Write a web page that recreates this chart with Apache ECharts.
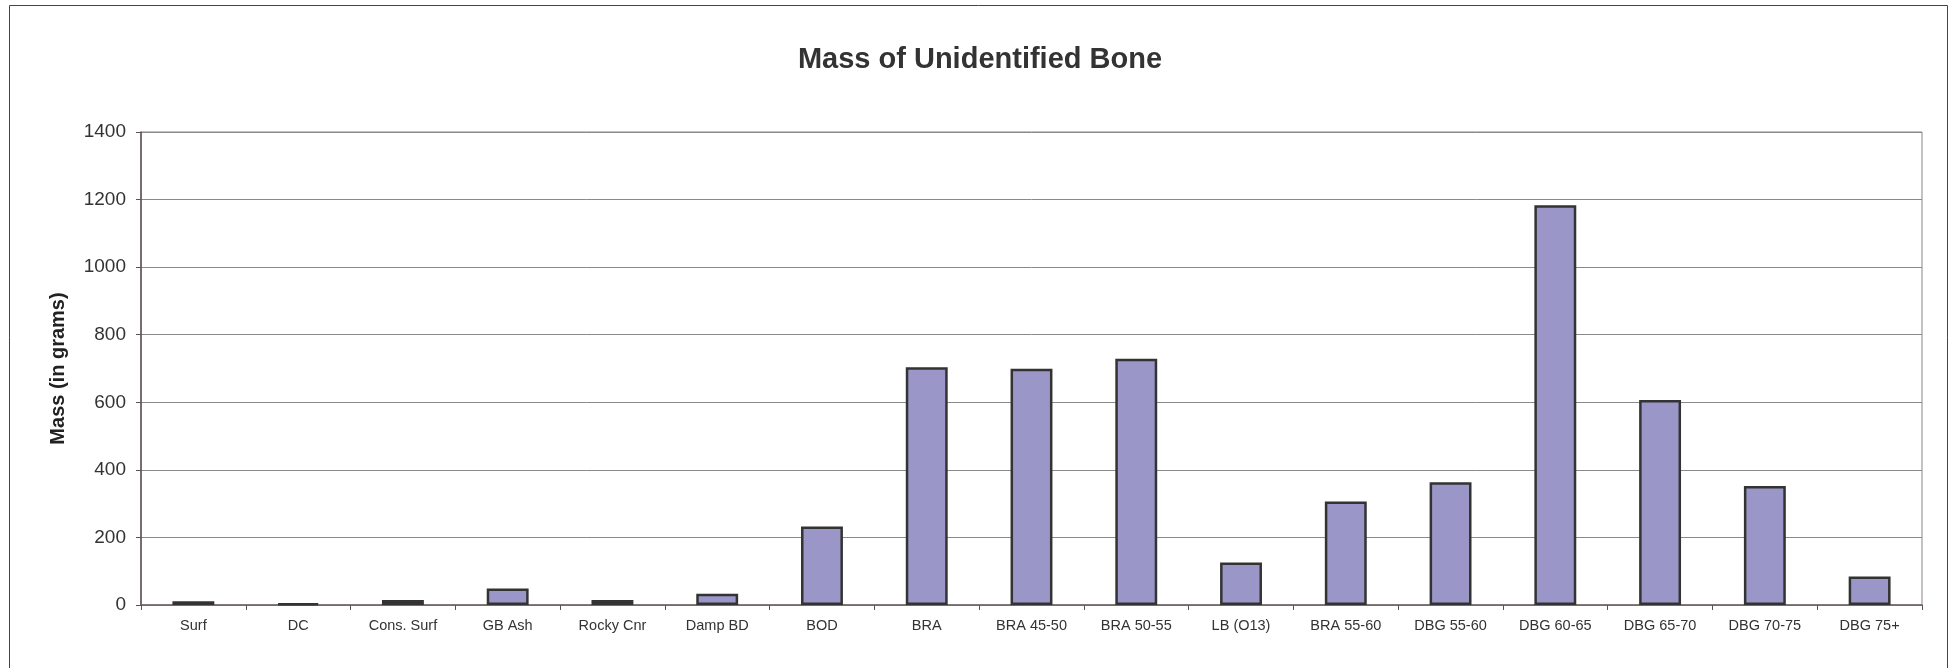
<!DOCTYPE html>
<html>
<head>
<meta charset="utf-8">
<title>Mass of Unidentified Bone</title>
<script src="https://cdn.jsdelivr.net/npm/echarts@6/dist/echarts.min.js"></script>
<style>
  html, body { margin: 0; padding: 0; background: #fff; }
  #chart { width: 1960px; height: 668px; }
</style>
</head>
<body>
<div id="chart"></div>
<script>
const categories = ['Surf', 'DC', 'Cons. Surf', 'GB Ash', 'Rocky Cnr', 'Damp BD', 'BOD', 'BRA',
  'BRA 45-50', 'BRA 50-55', 'LB (O13)', 'BRA 55-60', 'DBG 55-60', 'DBG 60-65', 'DBG 65-70',
  'DBG 70-75', 'DBG 75+']
const mass = [11, 5, 15, 49, 15, 33, 232, 704, 699, 729, 126, 306, 363, 1183, 607, 352, 84]
const yTicks = [0, 200, 400, 600, 800, 1000, 1200, 1400]

const chart = echarts.init(document.getElementById('chart'))
const font = '"Liberation Sans", Arial, sans-serif'

chart.setOption({
  animation: false,
  title: {
    text: 'Mass of Unidentified Bone',
    left: 'center',
    top: 40,
    textStyle: { fontFamily: font, fontSize: 29, fontWeight: 'bold', color: '#333' }
  },
  grid: { left: 141, right: 38, top: 132, bottom: 63, show: true, borderColor: '#8c8484', borderWidth: 1 },
  graphic: [{
    type: 'rect',
    shape: { x: 9.5, y: 5.5, width: 1938, height: 700 },
    style: { fill: null, stroke: '#444', lineWidth: 1 }
  }],
  xAxis: {
    type: 'category',
    data: categories,
    axisLine: { lineStyle: { color: '#6e6262', width: 1.5 } },
    axisTick: { show: true, length: 5, lineStyle: { color: '#555' } },
    axisLabel: { fontFamily: font, fontSize: 14.5, color: '#333', margin: 13, interval: 0 }
  },
  yAxis: {
    type: 'value',
    min: yTicks[0],
    max: yTicks[yTicks.length - 1],
    interval: 200,
    name: 'Mass (in grams)',
    nameLocation: 'middle',
    nameGap: 73,
    nameTextStyle: { fontFamily: font, fontSize: 20, fontWeight: 'bold', color: '#222' },
    axisLine: { show: true, lineStyle: { color: '#5e5252', width: 1.5 } },
    axisTick: { show: true, length: 5, lineStyle: { color: '#555' } },
    axisLabel: { fontFamily: font, fontSize: 19, color: '#333', margin: 15, formatter: v => String(v) },
    splitLine: { lineStyle: { color: '#8a8a8a', width: 1 } }
  },
  series: [{
    name: 'Mass',
    type: 'bar',
    data: mass,
    barWidth: '40%',
    itemStyle: { color: '#9b96c8', borderColor: '#333', borderWidth: 2.5 }
  }]
})
</script>
</body>
</html>
